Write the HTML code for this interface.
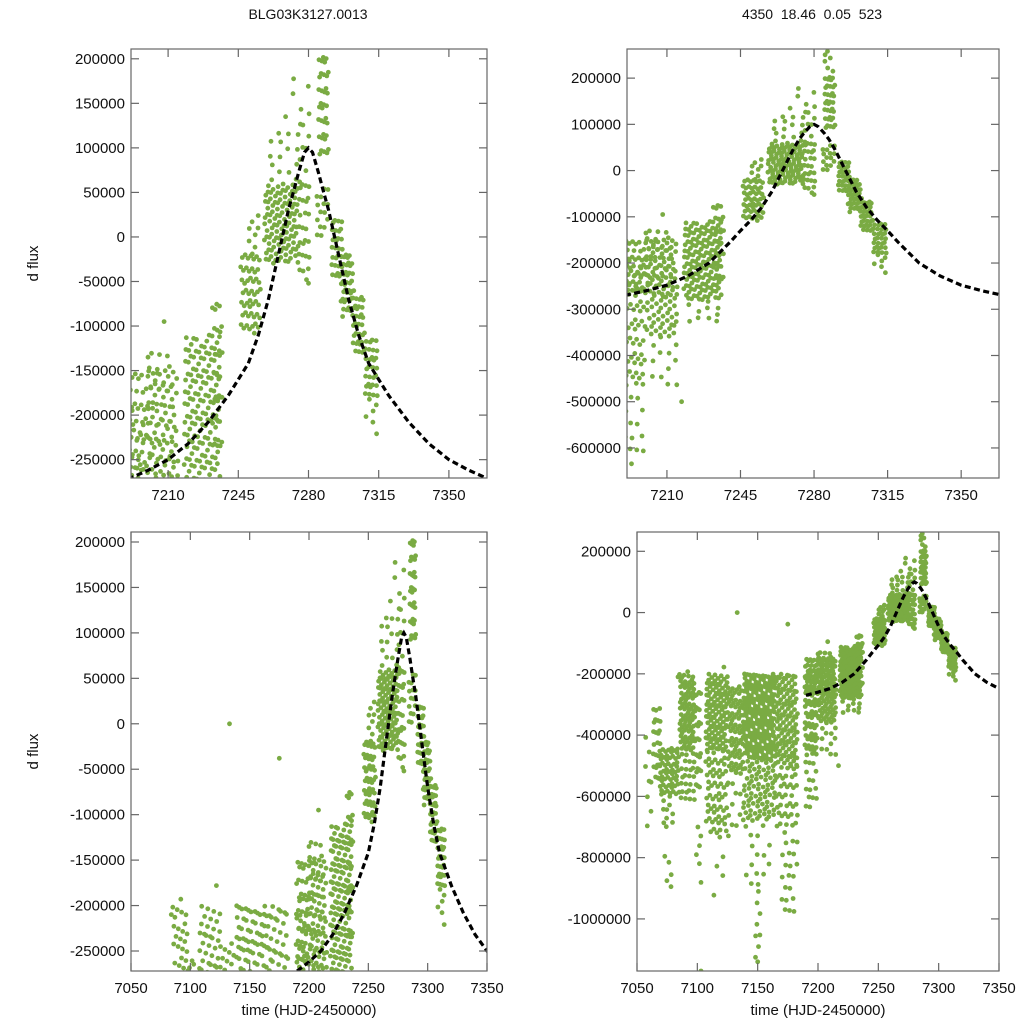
<!DOCTYPE html>
<html><head><meta charset="utf-8"><style>
html,body{margin:0;padding:0;background:#fff;}
svg{display:block;font-family:"Liberation Sans",sans-serif;}
</style></head><body>
<svg id="c" width="1024" height="1024" viewBox="0 0 1024 1024">
<rect width="1024" height="1024" fill="#fff"/>
<text x="308" y="19" font-size="14" text-anchor="middle" fill="#111">BLG03K3127.0013</text>
<text x="812" y="19" font-size="14" text-anchor="middle" fill="#111" xml:space="preserve">4350  18.46  0.05  523</text>
</svg>
<script>
// data bins (time start/end, flux low/high in thousands, point count)
const binStart=[7057,7063,7068,7070,7073,7085,7085,7098,7098,7107,7107,7112,7125,7125,7138,7138,7140,7148,7165,7165,7170,7189,7189,7200,7200,7200,7218,7218,7232,7246,7250,7258,7258,7265,7275,7275,7283,7285,7285,7291,7296,7302,7308,7308,7189];
const binEnd=[7063,7070,7085,7080,7080,7098,7098,7103,7103,7125,7125,7122,7138,7138,7165,7165,7160,7153,7183,7183,7183,7200,7200,7215,7215,7214,7236,7236,7237,7256,7256,7275,7275,7280,7281,7281,7290,7290,7290,7297,7302,7308,7315,7315,7200];
const binLow=[-720,-560,-600,-700,-920,-450,-620,-600,-910,-450,-720,-940,-520,-760,-480,-680,-900,-1150,-500,-720,-980,-450,-650,-360,-480,-270,-280,-330,-250,-110,-20,-30,60,120,-50,60,0,90,210,-50,-90,-130,-180,-225,-270];
const binHigh=[-380,-300,-440,-600,-780,-200,-450,-250,-700,-200,-450,-720,-230,-520,-200,-480,-680,-900,-200,-500,-720,-190,-450,-150,-360,-130,-110,-280,-70,-20,30,60,120,180,60,150,60,210,260,20,-20,-60,-110,-180,-150];
const binCount=[8,25,60,10,5,80,25,25,6,110,60,5,70,12,220,80,15,8,120,40,20,60,18,90,12,40,150,10,25,50,8,110,15,6,25,8,15,35,6,30,40,35,30,6,40];
// isolated points
const outT=[7133,7175,7208,7200,7122,7084,7092,7217,7150,7103,7280,7279,7253];
const outF=[0,-38,-95,-135,-178,-210,-193,-500,-1140,-1170,-52,-48,-108];
// model curves (flux in thousands)
const modelT=[7190,7200,7210,7220,7230,7240,7245,7250,7255,7260,7265,7270,7273,7275,7278,7280,7282,7285,7287,7290,7295,7300,7305,7310,7315,7320,7330,7340,7350,7360,7370];
const modelLeft=[-272,-262,-250,-232,-208,-178,-160,-142,-110,-70,-20,30,55,72,95,100,95,72,55,30,-20,-70,-110,-142,-160,-178,-208,-232,-250,-262,-272];
const modelRight=[-270,-260,-248,-228,-200,-155,-130,-107,-80,-45,0,45,68,80,95,100,95,80,68,45,0,-45,-80,-107,-130,-155,-200,-228,-248,-260,-270];
// axis ticks
const topXTicks=[7210,7245,7280,7315,7350];
const botXTicks=[7050,7100,7150,7200,7250,7300,7350];
const yTicksA=[200000,150000,100000,50000,0,-50000,-100000,-150000,-200000,-250000];
const yTicksB=[200000,100000,0,-100000,-200000,-300000,-400000,-500000,-600000];
const yTicksC=[200000,0,-200000,-400000,-600000,-800000,-1000000];

const NS="http://www.w3.org/2000/svg";
const svg=document.getElementById('c');
function mk(tag,at,parent){const e=document.createElementNS(NS,tag);for(const k in at)e.setAttribute(k,at[k]);(parent||svg).appendChild(e);return e;}

const panels=[
 {id:'top-left',x0:131,x1:487,y0:49,y1:478,tmin:7191.5,tmax:7369,fmin:-270600,fmax:211000,xt:topXTicks,yt:yTicksA,model:modelLeft,ylab:true,xlab:false},
 {id:'top-right',x0:627,x1:999,y0:49,y1:478,tmin:7191,tmax:7368,fmin:-665000,fmax:263000,xt:topXTicks,yt:yTicksB,model:modelRight,ylab:false,xlab:false},
 {id:'bottom-left',x0:131,x1:487,y0:532,y1:971,tmin:7050,tmax:7350,fmin:-272000,fmax:211000,xt:botXTicks,yt:yTicksA,model:modelLeft,ylab:true,xlab:true},
 {id:'bottom-right',x0:637,x1:999,y0:532,y1:971,tmin:7050,tmax:7350,fmin:-1170000,fmax:263000,xt:botXTicks,yt:yTicksC,model:modelRight,ylab:false,xlab:true}
];

// build point list from bins (R2 low-discrepancy spread within each bin)
const ptsT=[],ptsF=[];
for(let i=0;i<binStart.length;i++){
 const n=binCount[i];
 for(let k=0;k<n;k++){
  const u=((0.5+i*0.31+k*0.7548777)%1);
  const v=((0.5+i*0.17+k*0.5698403)%1);
  ptsT.push(binStart[i]+u*(binEnd[i]-binStart[i]));
  ptsF.push((binLow[i]+v*(binHigh[i]-binLow[i]))*1000);
 }
}
for(let i=0;i<outT.length;i++){ptsT.push(outT[i]);ptsF.push(outF[i]*1000);}

panels.forEach((p,pi)=>{
 const X=t=>p.x0+(t-p.tmin)/(p.tmax-p.tmin)*(p.x1-p.x0);
 const Y=f=>p.y1-(f-p.fmin)/(p.fmax-p.fmin)*(p.y1-p.y0);
 const g=mk('g',{});
 
 
 const cp=mk('clipPath',{id:'cp'+pi},g);
 mk('rect',{x:p.x0,y:p.y0,width:p.x1-p.x0,height:p.y1-p.y0},cp);
 const pg=mk('g',{'clip-path':'url(#cp'+pi+')',fill:'#7aab43'},g);
 
 
 for(let i=0;i<ptsT.length;i++){
  const x=X(ptsT[i]),y=Y(ptsF[i]);
  if(x<p.x0-4||x>p.x1+4||y<p.y0-4||y>p.y1+4)continue;
  mk('circle',{cx:x.toFixed(1),cy:y.toFixed(1),r:2.4},pg);
 }
 let d='';
 for(let i=0;i<modelT.length;i++){d+=(i?'L':'M')+X(modelT[i]).toFixed(1)+','+Y(p.model[i]*1000).toFixed(1);}
 const ml=mk('path',{d:d,fill:'none',stroke:'#000','stroke-width':3.2,'stroke-dasharray':'6 3.5','clip-path':'url(#cp'+pi+')'},g);
 
 
 const fr=mk('rect',{x:p.x0,y:p.y0,width:p.x1-p.x0,height:p.y1-p.y0,fill:'none',stroke:'#666','stroke-width':1.2},g);
 
 
 p.xt.forEach(t=>{
  const x=X(t);
  mk('line',{x1:x,x2:x,y1:p.y1,y2:p.y1-8,stroke:'#666','stroke-width':1.2},g);
  mk('line',{x1:x,x2:x,y1:p.y0,y2:p.y0+8,stroke:'#666','stroke-width':1.2},g);
  const tl=mk('text',{x:x,y:p.y1+22,'font-size':15,'text-anchor':'middle',fill:'#111'},g);
  tl.textContent=t;
  
  
 });
 p.yt.forEach(f=>{
  const y=Y(f);
  mk('line',{x1:p.x0,x2:p.x0+8,y1:y,y2:y,stroke:'#666','stroke-width':1.2},g);
  mk('line',{x1:p.x1,x2:p.x1-8,y1:y,y2:y,stroke:'#666','stroke-width':1.2},g);
  const tl=mk('text',{x:p.x0-6,y:y+5,'font-size':15,'text-anchor':'end',fill:'#111'},g);
  tl.textContent=f;
  
  
 });
 if(p.ylab){
  const cy=(p.y0+p.y1)/2;
  const yl=mk('text',{x:38,y:cy,'font-size':15,'text-anchor':'middle',fill:'#111',transform:'rotate(-90 38 '+cy+')'},g);
  yl.textContent='d flux';
  
  
 }
 if(p.xlab){
  const xl=mk('text',{x:(p.x0+p.x1)/2,y:1015,'font-size':15,'text-anchor':'middle',fill:'#111'},g);
  xl.textContent='time (HJD-2450000)';
  
  
 }
});
</script>
</body></html>
